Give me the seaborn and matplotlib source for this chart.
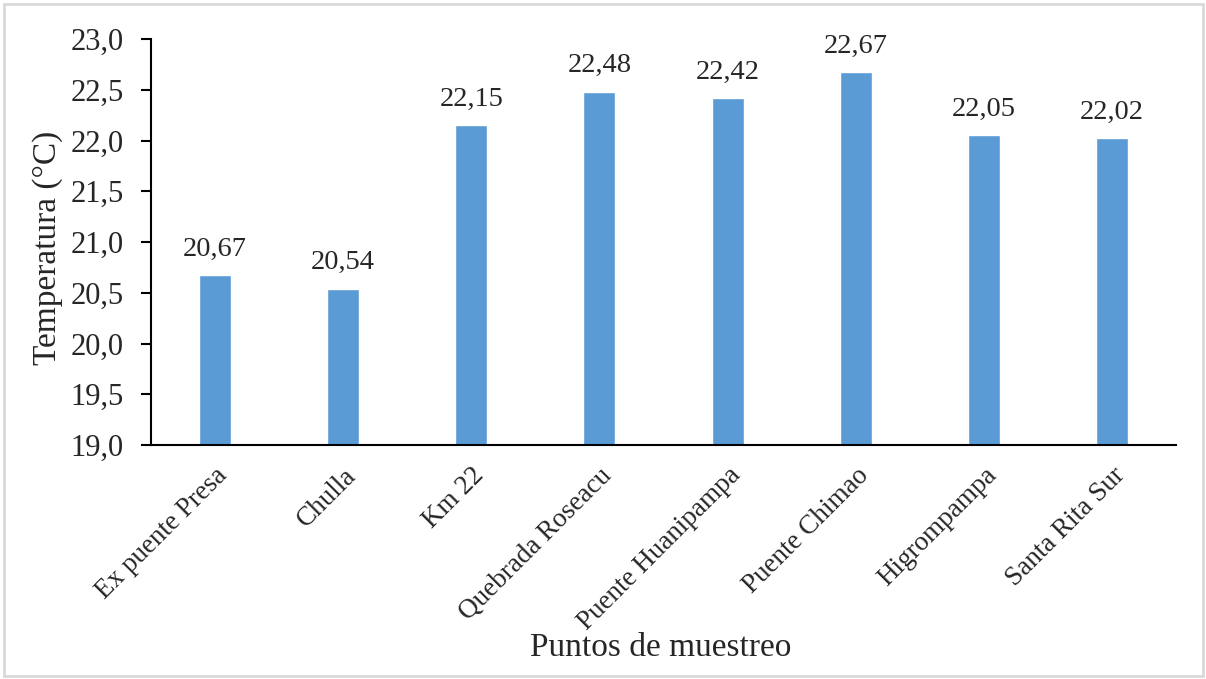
import matplotlib
matplotlib.use("Agg")
import matplotlib.pyplot as plt
import matplotlib.transforms as mtransforms
import seaborn as sns
import pandas as pd
from matplotlib.patches import Rectangle

puntos = ["Ex puente Presa", "Chulla", "Km 22", "Quebrada Roseacu",
          "Puente Huanipampa", "Puente Chimao", "Higrompampa", "Santa Rita Sur"]
temperatura = [20.67, 20.54, 22.15, 22.48, 22.42, 22.67, 22.05, 22.02]
yticks = [19.0, 19.5, 20.0, 20.5, 21.0, 21.5, 22.0, 22.5, 23.0]

sns.set_theme(style="white")
plt.rcParams["font.family"] = ["Liberation Serif", "DejaVu Serif"]

df = pd.DataFrame({"punto": puntos, "temp": temperatura})

fig = plt.figure(figsize=(12.06, 6.79), dpi=100)
ax = fig.add_axes([151 / 1206, 1 - 445 / 679, (1176 - 151) / 1206, (445 - 39) / 679])

sns.barplot(data=df, x="punto", y="temp", color="#5B9BD5", saturation=1,
            width=0.25, ax=ax)

ax.set_ylim(19.0, 23.0)
ax.set_xlim(-0.5, 7.5)
ax.set_yticks(yticks)
ax.set_yticklabels([f"{v:.1f}".replace(".", ",") for v in yticks], fontsize=22)
ax.set_xticks(range(len(puntos)))
ax.set_xticklabels(puntos, rotation=45, ha="right", rotation_mode="anchor", fontsize=19.5)

# nudge rotated category labels slightly left
shift = mtransforms.ScaledTranslation(-10 / 72, -1 / 72, fig.dpi_scale_trans)
for lbl in ax.get_xticklabels():
    lbl.set_transform(lbl.get_transform() + shift)

for i, v in enumerate(temperatura):
    ax.annotate(f"{v:.2f}".replace(".", ","), xy=(i, v), xytext=(0, 14),
                textcoords="offset points", ha="center", va="baseline", fontsize=20.5)

for side in ["top", "right"]:
    ax.spines[side].set_visible(False)
for side in ["left", "bottom"]:
    ax.spines[side].set_color("black")
    ax.spines[side].set_linewidth(1.5)

ax.tick_params(axis="y", direction="out", length=7.5, width=1.5, color="black", pad=12, left=True)
ax.tick_params(axis="x", length=0, pad=13)

ax.set_ylabel("Temperatura (°C)", fontsize=24)
ax.set_xlabel("Puntos de muestreo", fontsize=24)
ax.yaxis.set_label_coords(-0.086, 0.485)
ax.xaxis.set_label_coords(0.497, -0.463)

fig.patches.append(Rectangle((4 / 1206, 3 / 679), 1199 / 1206, 672 / 679,
                             transform=fig.transFigure, fill=False,
                             edgecolor="#d9d9d9", linewidth=2))

fig.savefig("out.png", dpi=100)
